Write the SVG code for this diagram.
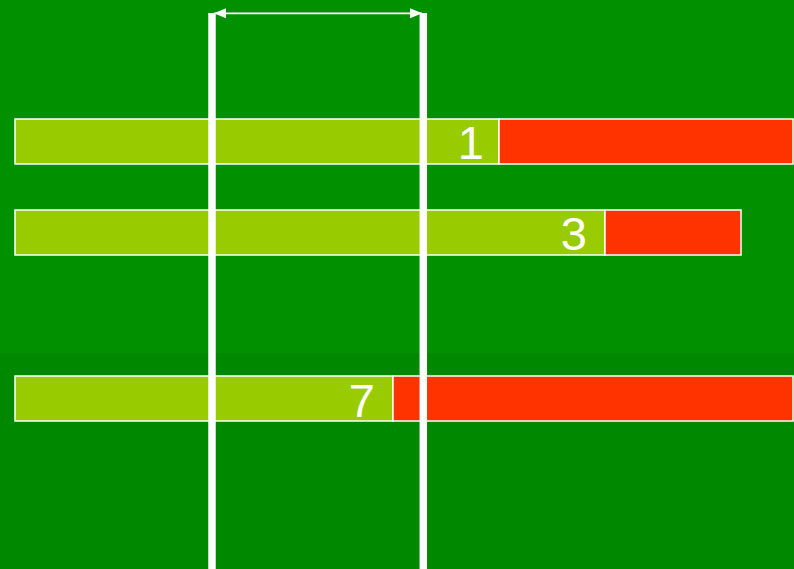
<svg xmlns="http://www.w3.org/2000/svg" width="794" height="569" viewBox="0 0 794 569">
<style>
.g{fill:#99cc00;stroke:#ffffff;stroke-width:1.5}
.r{fill:#ff3300;stroke:#ffffff;stroke-width:1.5}
.lbl{font-family:"Liberation Sans",Arial,sans-serif;font-size:47px;fill:#ffffff;text-anchor:end}
.vl{stroke:#ffffff;stroke-width:7.5}
.dim{stroke:#ffffff;stroke-width:1.8}
</style>
<defs>
<marker id="ah" viewBox="0 0 12 10" refX="12" refY="5" markerWidth="12" markerHeight="10" markerUnits="userSpaceOnUse" orient="auto-start-reverse">
<path d="M0,0 L12,5 L0,10 Z" fill="#ffffff"/>
</marker>
</defs>
<rect x="0" y="0" width="794" height="569" fill="#008800"/>
<rect x="0" y="0" width="794" height="353" fill="#009000"/>
<g id="bar1">
<rect class="g" x="15" y="119" width="484" height="45"/>
<rect class="r" x="499" y="119" width="294" height="45"/>
<text class="lbl" x="484" y="159">1</text>
</g>
<g id="bar2">
<rect class="g" x="15" y="210" width="590" height="45"/>
<rect class="r" x="605" y="210" width="136" height="45"/>
<text class="lbl" x="587" y="250">3</text>
</g>
<g id="bar3">
<rect class="g" x="15" y="376" width="378" height="45"/>
<rect class="r" x="393" y="376" width="400" height="45"/>
<text class="lbl" x="375" y="417">7</text>
</g>
<g id="connectors">
<line class="vl" x1="212" y1="13" x2="212" y2="569"/>
<line class="vl" x1="423.3" y1="13" x2="423.3" y2="569"/>
<line class="dim" x1="214" y1="13.3" x2="422" y2="13.3" marker-start="url(#ah)" marker-end="url(#ah)"/>
</g>
</svg>
